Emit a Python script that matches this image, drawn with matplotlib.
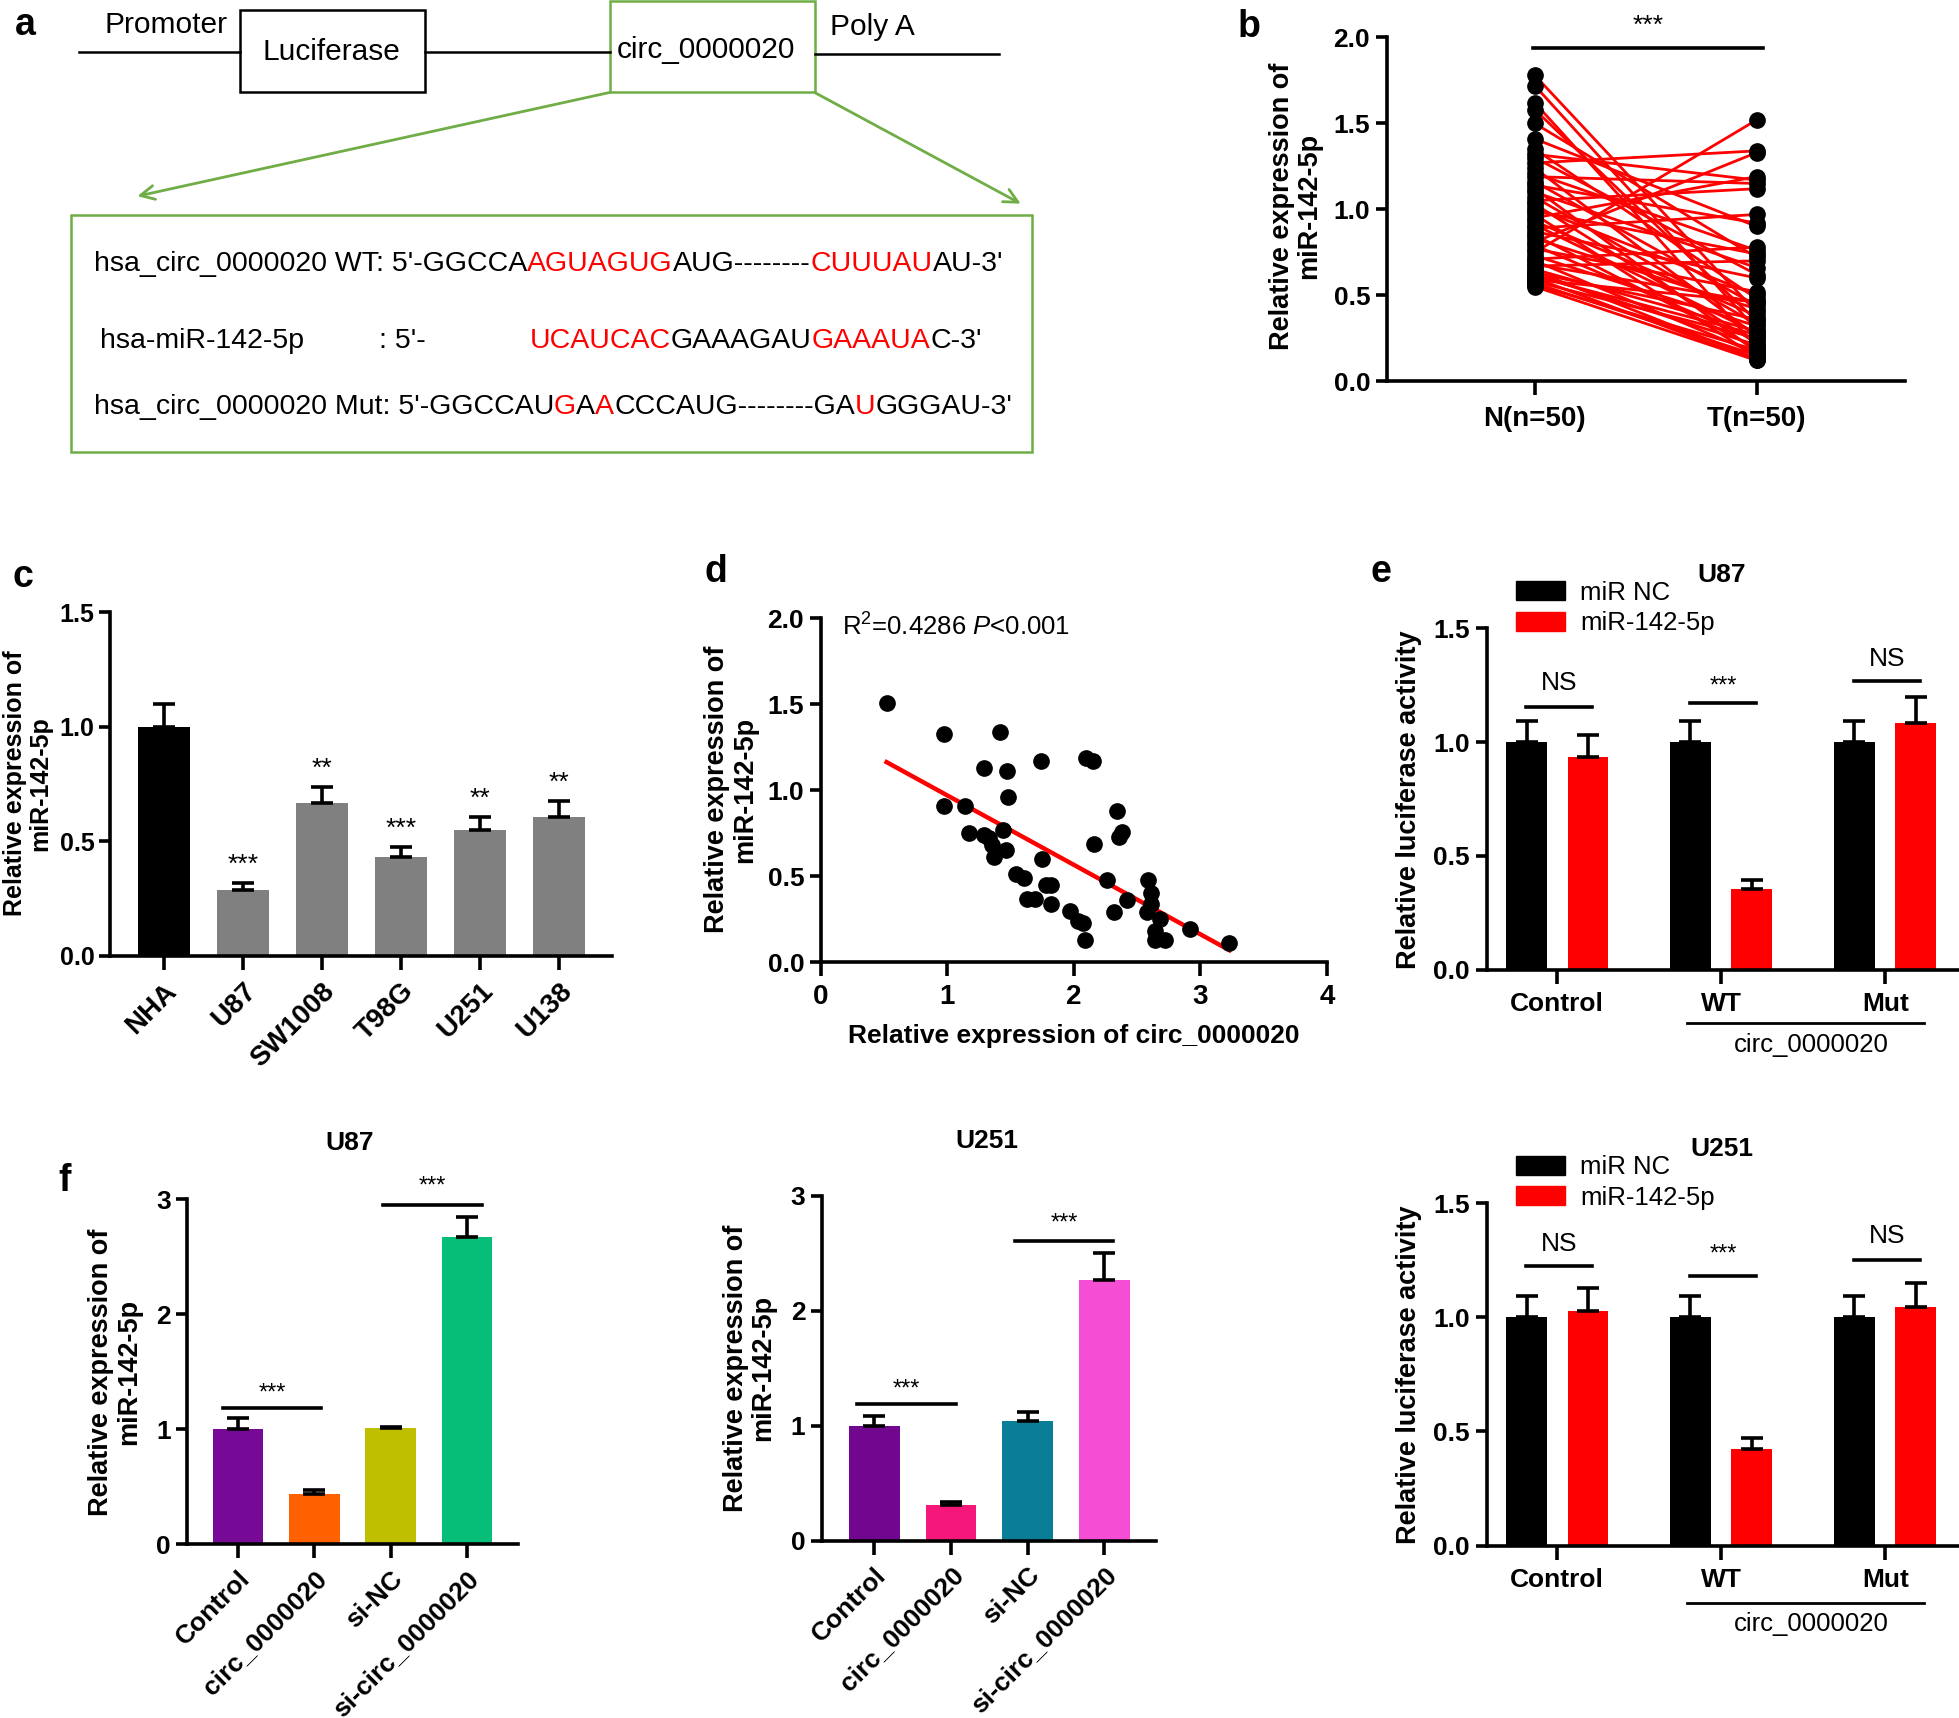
import numpy as np
import matplotlib
matplotlib.use("Agg")
import matplotlib.pyplot as plt
from matplotlib import font_manager
from matplotlib.patches import Rectangle, Patch

# fonts
avail = {f.name for f in font_manager.fontManager.ttflist}
BASE = 'Liberation Sans'
if 'Liberation Sans Narrow' in avail:
    NARROW, nscale = 'Liberation Sans Narrow', 1.0
else:
    NARROW, nscale = 'Liberation Sans', 0.84
plt.rcParams['font.family'] = [BASE, 'DejaVu Sans']
plt.rcParams['mathtext.fontset'] = 'custom'
plt.rcParams['mathtext.rm'] = BASE
plt.rcParams['mathtext.it'] = BASE + ':italic'

RED = '#ff0000'
GREEN = '#70ad47'
TICK_FS = 23 if nscale == 1.0 else 19
CAT_FS = 19

# ---- data ----
# b: paired normal / tumour values
b_groups = ['N(n=50)', 'T(n=50)']
b_normal = [1.78, 1.72, 1.62, 1.58, 1.50, 1.41, 1.35, 1.32, 1.30, 1.27,
            1.24, 1.21, 1.19, 1.16, 1.14, 1.12, 1.10, 1.07, 1.05, 1.03,
            1.01, 0.99, 0.97, 0.95, 0.93, 0.91, 0.89, 0.87, 0.85, 0.83,
            0.81, 0.79, 0.77, 0.75, 0.73, 0.71, 0.70, 0.68, 0.67, 0.65,
            0.64, 0.63, 0.62, 0.61, 0.60, 0.59, 0.58, 0.57, 0.56, 0.55]
b_tumor = [0.40, 0.30, 0.20, 0.35, 0.72, 0.90, 0.48, 1.17, 0.62, 1.34,
           0.26, 0.76, 1.15, 0.44, 0.92, 0.17, 0.66, 0.33, 1.12, 0.22,
           0.50, 0.74, 0.14, 1.19, 0.38, 0.28, 0.97, 0.60, 0.19, 0.42,
           1.33, 0.24, 0.52, 1.52, 0.32, 0.78, 0.16, 0.46, 0.70, 0.29,
           0.13, 0.36, 0.21, 0.27, 0.12, 0.46, 0.25, 0.15, 0.18, 0.12]

# c: cell lines
c_lines = ['NHA', 'U87', 'SW1008', 'T98G', 'U251', 'U138']
c_vals = [1.0, 0.287, 0.668, 0.43, 0.55, 0.608]
c_err = [0.10, 0.033, 0.07, 0.047, 0.056, 0.068]
c_stars = ['', '***', '**', '***', '**', '**']

# d: correlation
d_circ = [0.52, 0.97, 1.42, 1.29, 1.47, 1.74, 2.10, 2.15, 1.48, 0.97,
          1.14, 2.34, 1.17, 1.44, 1.29, 1.33, 2.38, 2.36, 2.16, 1.35,
          1.46, 1.37, 1.75, 1.54, 1.61, 2.26, 2.59, 1.78, 1.82, 2.61,
          1.63, 1.69, 2.42, 2.61, 1.82, 1.97, 2.32, 2.58, 2.68, 2.03,
          2.07, 2.92, 2.64, 2.09, 2.64, 2.72, 3.23]
d_mir = [1.51, 1.33, 1.34, 1.13, 1.11, 1.17, 1.19, 1.17, 0.96, 0.91,
         0.91, 0.88, 0.75, 0.77, 0.74, 0.72, 0.76, 0.73, 0.69, 0.68,
         0.65, 0.61, 0.60, 0.51, 0.49, 0.48, 0.48, 0.45, 0.45, 0.40,
         0.37, 0.37, 0.36, 0.34, 0.34, 0.30, 0.29, 0.29, 0.25, 0.24,
         0.23, 0.19, 0.18, 0.13, 0.13, 0.13, 0.11]
d_fit_slope = -0.404
d_fit_intercept = 1.374

# e: luciferase
e_groups = ['Control', 'WT', 'Mut']
e_u87_nc = [1.0, 1.0, 1.0]
e_u87_nc_err = [0.095, 0.095, 0.095]
e_u87_mir = [0.934, 0.354, 1.085]
e_u87_mir_err = [0.098, 0.041, 0.112]
e_u251_nc = [1.0, 1.0, 1.0]
e_u251_nc_err = [0.095, 0.095, 0.095]
e_u251_mir = [1.027, 0.425, 1.045]
e_u251_mir_err = [0.102, 0.047, 0.104]

# f: overexpression / knockdown
f_labels = ['Control', 'circ_0000020', 'si-NC', 'si-circ_0000020']
f_u87 = [1.0, 0.434, 1.01, 2.675]
f_u87_err = [0.10, 0.042, 0.012, 0.171]
f_u251 = [1.0, 0.308, 1.043, 2.27]
f_u251_err = [0.085, 0.031, 0.077, 0.23]
f_u87_colors = ['#760a96', '#ff6100', '#bfbf00', '#06be78']
f_u251_colors = ['#72078f', '#f5187a', '#0a7e96', '#f54ed4']

# ---- figure ----
W, H = 1568, 1375
fig = plt.figure(figsize=(19.59, 17.18), dpi=100)


def add_ax(x0, y0, x1, y1):
    return fig.add_axes([x0 / W, 1 - y1 / H, (x1 - x0) / W, (y1 - y0) / H])


def style(ax):
    for s in ['top', 'right']:
        ax.spines[s].set_visible(False)
    for s in ['left', 'bottom']:
        ax.spines[s].set_linewidth(2.6)
    ax.tick_params(direction='out', length=8, width=2.6, pad=4)


def num_ticks(ax, yt, fmt, fs=TICK_FS):
    ax.set_yticks(yt, [fmt.format(v) for v in yt], fontsize=fs,
                  fontweight='bold', fontfamily=NARROW)


def upper_err(ax, x, y, e, cap=7):
    ax.errorbar(x, y, yerr=[np.zeros(len(e)), e], fmt='none', ecolor='black',
                elinewidth=2.6, capsize=cap, capthick=2.6, zorder=3)


def sig(ax, x0, x1, y, txt, ty, size=18):
    ax.plot([x0, x1], [y, y], color='black', lw=2.6, clip_on=False)
    ax.text((x0 + x1) / 2, ty, txt, ha='center', va='center', fontsize=size, clip_on=False)


ov = fig.add_axes([0, 0, 1, 1])
ov.set_xlim(0, W)
ov.set_ylim(H, 0)
ov.axis('off')

# ---- panel a (diagram) ----
afs = 24 if nscale == 1.0 else 20.5
ov.plot([63, 192], [42, 42], color='black', lw=1.8)
ov.plot([340, 488], [42, 42], color='black', lw=1.8)
ov.plot([652, 800], [43, 43], color='black', lw=1.8)
ov.add_patch(Rectangle((192, 8), 148, 66, fill=False, ec='black', lw=1.8))
ov.add_patch(Rectangle((488, 1), 164, 73, fill=False, ec=GREEN, lw=1.8))
ov.add_patch(Rectangle((57, 172), 769, 190, fill=False, ec=GREEN, lw=1.8))
ov.text(133, 20, 'Promoter', ha='center', va='center', fontsize=afs + 1, fontfamily=NARROW)
ov.text(265, 42, 'Luciferase', ha='center', va='center', fontsize=afs + 1, fontfamily=NARROW)
ov.text(565, 40, 'circ_0000020', ha='center', va='center', fontsize=afs + 1, fontfamily=NARROW)
ov.text(698, 22, 'Poly A', ha='center', va='center', fontsize=afs + 1, fontfamily=NARROW)
for start, end in [((488, 74), (110, 157)), ((652, 74), (817, 163))]:
    ov.annotate('', xy=end, xytext=start,
                arrowprops=dict(arrowstyle='->', color=GREEN, lw=2, mutation_scale=25,
                                shrinkA=0, shrinkB=0))


def seq_line(x, y, parts):
    t = None
    for s, c in parts:
        if t is None:
            t = ov.text(x, y, s, color=c, fontsize=afs, va='center', ha='left', fontfamily=NARROW)
        else:
            t = ov.annotate(s, xy=(1, 0), xycoords=t, va='bottom', ha='left', color=c,
                            fontsize=afs, fontfamily=NARROW)


seq_line(75, 211, [("hsa_circ_0000020 WT: 5'-GGCCA", 'black'), ('AGUAGUG', RED),
                   ('AUG--------', 'black'), ('CUUUAU', RED), ("AU-3'", 'black')])
seq_line(80, 273, [('hsa-miR-142-5p', 'black')])
seq_line(303, 273, [(": 5'-", 'black')])
seq_line(424, 273, [('UCAUCAC', RED), ('GAAAGAU', 'black'), ('GAAAUA', RED), ("C-3'", 'black')])
seq_line(75, 326, [("hsa_circ_0000020 Mut: 5'-GGCCAU", 'black'), ('G', RED), ('A', 'black'),
                   ('A', RED), ('CCCAUG--------GA', 'black'), ('U', RED), ("GGGAU-3'", 'black')])

# panel letters
for lt, (lx, ly) in {'a': (20, 20), 'b': (1000, 22), 'c': (18, 462), 'd': (573, 458),
                     'e': (1105, 458), 'f': (52, 945)}.items():
    ov.text(lx, ly, lt, fontsize=27, fontweight='bold', ha='center', va='center')

# y labels and titles on overlay
ylab2 = 'Relative expression of\nmiR-142-5p'
for (lx, ly, s, fs) in [(1037, 165, ylab2, 19.5), (22, 627, ylab2, 18), (585, 632, ylab2, 19.5),
                        (1128, 640, 'Relative luciferase activity', 19.5),
                        (1128, 1100, 'Relative luciferase activity', 19.5),
                        (92, 1098, ylab2, 19.5), (600, 1095, ylab2, 19.5)]:
    ov.text(lx, ly, s, rotation=90, ha='center', va='center', fontsize=fs,
            fontweight='bold', linespacing=1.1)
for (tx, ty, s) in [(1378, 460, 'U87'), (1378, 920, 'U251'), (280, 915, 'U87'), (790, 913, 'U251')]:
    ov.text(tx, ty, s, ha='center', va='center', fontsize=19, fontweight='bold')

# ---- panel b ----
axb = add_ax(1110, 30, 1525, 305)
style(axb)
for n, t in zip(b_normal, b_tumor):
    axb.plot([0, 1], [n, t], color=RED, lw=2, zorder=2)
axb.plot(np.zeros(len(b_normal)), b_normal, 'o', color='black', ms=11, zorder=3, clip_on=False)
axb.plot(np.ones(len(b_tumor)), b_tumor, 'o', color='black', ms=11, zorder=3, clip_on=False)
axb.set_xlim(-0.667, 1.67)
axb.set_ylim(0, 2.0)
num_ticks(axb, [0, 0.5, 1.0, 1.5, 2.0], '{:.1f}')
axb.set_xticks([0, 1], b_groups, fontsize=TICK_FS + 1, fontweight='bold', fontfamily=NARROW)
axb.tick_params(axis='x', length=10, pad=8)
sig(axb, -0.01, 1.03, 1.94, '***', 2.07, size=19)

# ---- panel c ----
axc = add_ax(88, 490, 490, 765)
style(axc)
xc = np.arange(len(c_lines))
axc.bar(xc, c_vals, 0.66, color=['black'] + ['#808080'] * 5, zorder=2)
upper_err(axc, xc, c_vals, c_err, cap=8)
for x, v, e, s in zip(xc, c_vals, c_err, c_stars):
    if s:
        axc.text(x, v + e + 0.025, s, ha='center', va='bottom', fontsize=19)
axc.set_xlim(-0.68, 5.67)
axc.set_ylim(0, 1.5)
num_ticks(axc, [0, 0.5, 1.0, 1.5], '{:.1f}', fs=TICK_FS - 1)
axc.tick_params(axis='y', pad=3)
axc.set_xticks(xc, c_lines, rotation=45, ha='right', va='top', rotation_mode='anchor',
               fontsize=CAT_FS + 1, fontweight='bold')
axc.tick_params(axis='x', length=10, pad=6)

# ---- panel d ----
axd = add_ax(657, 495, 1062, 770)
style(axd)
axd.plot(d_circ, d_mir, 'o', color='black', ms=11, zorder=3, clip_on=False)
fx = np.array([min(d_circ), max(d_circ)])
axd.plot(fx, d_fit_slope * fx + d_fit_intercept, color=RED, lw=3.2, zorder=2)
axd.set_xlim(0, 4)
axd.set_ylim(0, 2.0)
num_ticks(axd, [0, 0.5, 1.0, 1.5, 2.0], '{:.1f}')
axd.set_xticks([0, 1, 2, 3, 4], ['0', '1', '2', '3', '4'], fontsize=TICK_FS + 1, fontweight='bold',
               fontfamily=NARROW)
axd.tick_params(axis='x', length=10, pad=6)
axd.set_xlabel('Relative expression of circ_0000020', fontsize=19, fontweight='bold', labelpad=10)
axd.text(0.17, 1.95, r'R$^{2}$=0.4286 $P$<0.001', fontsize=18.5, va='center', ha='left')


# ---- panel e ----
def lucif(y0, y1, nc, nc_err, mir, mir_err, marks):
    ax = add_ax(1190, y0, 1568, y1)
    style(ax)
    xe = np.arange(len(e_groups))
    ax.bar(xe - 0.1875, nc, 0.25, color='black', zorder=2)
    ax.bar(xe + 0.1875, mir, 0.25, color=RED, zorder=2)
    upper_err(ax, xe - 0.1875, nc, nc_err, cap=8)
    upper_err(ax, xe + 0.1875, mir, mir_err, cap=8)
    ax.set_xlim(-0.43, 2.45)
    ax.set_ylim(0, 1.5)
    num_ticks(ax, [0, 0.5, 1.0, 1.5], '{:.1f}')
    ax.set_xticks(xe, e_groups, fontsize=CAT_FS, fontweight='bold')
    ax.tick_params(axis='x', length=10, pad=6)
    for (g, ly, txt, ty, sz) in marks:
        sig(ax, g - 0.19, g + 0.21, ly, txt, ty, size=sz)
    ax.legend(handles=[Patch(color='black', label='miR NC'), Patch(color=RED, label='miR-142-5p')],
              loc='upper left', bbox_to_anchor=(0.04, 1.17), frameon=False, fontsize=18.5,
              handlelength=1.9, handleheight=0.75, labelspacing=0.25, handletextpad=0.6,
              borderaxespad=0)
    return ax


lucif(503, 776, e_u87_nc, e_u87_nc_err, e_u87_mir, e_u87_mir_err,
      [(0, 1.155, 'NS', 1.26, 19), (1, 1.171, '***', 1.245, 17), (2, 1.267, 'NS', 1.365, 19)])
lucif(963, 1237, e_u251_nc, e_u251_nc_err, e_u251_mir, e_u251_mir_err,
      [(0, 1.226, 'NS', 1.32, 19), (1, 1.179, '***', 1.275, 17), (2, 1.253, 'NS', 1.355, 19)])
for ly in [819, 1283]:
    ov.plot([1350, 1540], [ly, ly], color='black', lw=2)
    ov.text(1450, ly + 17, 'circ_0000020', ha='center', va='center', fontsize=18.5)


# ---- panel f ----
def fbar(x0, y0, x1, y1, vals, errs, colors, xlim, marks):
    ax = add_ax(x0, y0, x1, y1)
    style(ax)
    xf = np.arange(len(f_labels))
    ax.bar(xf, vals, 0.66, color=colors, zorder=2)
    upper_err(ax, xf, vals, errs, cap=8)
    ax.set_xlim(*xlim)
    ax.set_ylim(0, 3)
    num_ticks(ax, [0, 1, 2, 3], '{:.0f}')
    ax.set_xticks(xf, f_labels, rotation=45, ha='right', va='top', rotation_mode='anchor',
                  fontsize=CAT_FS, fontweight='bold')
    ax.tick_params(axis='x', length=10, pad=6)
    for (a, b, ly, ty) in marks:
        sig(ax, a, b, ly, '***', ty, size=17)
    return ax


fbar(150, 960, 415, 1236, f_u87, f_u87_err, f_u87_colors, (-0.667, 3.68),
     [(-0.2, 1.09, 1.187, 1.31), (1.9, 3.2, 2.95, 3.11)])
fbar(658, 957, 925, 1233, f_u251, f_u251_err, f_u251_colors, (-0.68, 3.67),
     [(-0.23, 1.06, 1.19, 1.31), (1.83, 3.12, 2.61, 2.76)])

fig.savefig('out.png', dpi=100)
